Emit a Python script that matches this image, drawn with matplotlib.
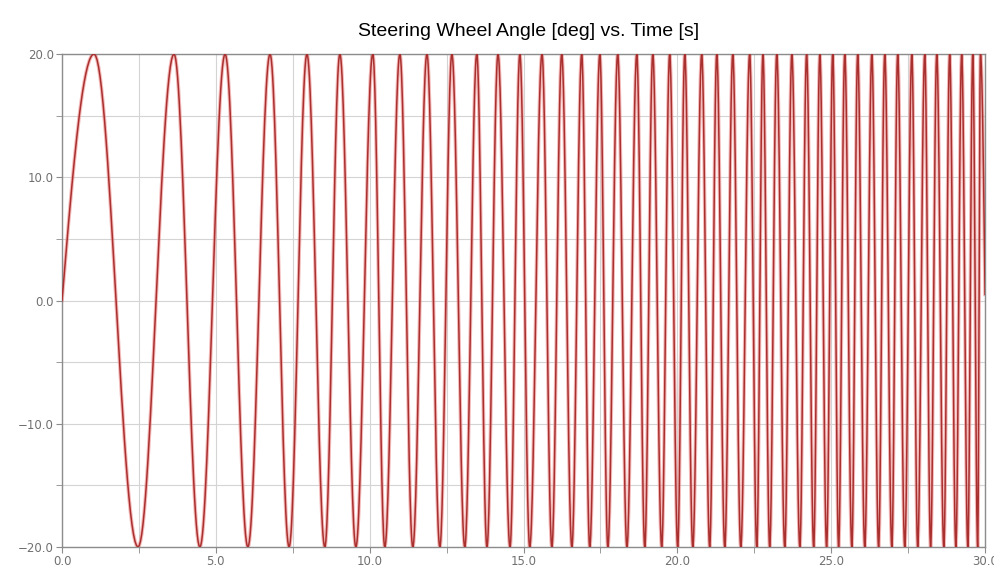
import numpy as np
import matplotlib
matplotlib.use("Agg")
import matplotlib.pyplot as plt
from matplotlib.ticker import MultipleLocator, FuncFormatter

# steering sweep: turning points of the trace (s), amplitude in deg
peak_times = [1.04, 3.64, 5.30, 6.76, 7.96, 9.03, 10.10, 10.98, 11.86, 12.67,
              13.48, 14.17, 14.88, 15.60, 16.24, 16.89, 17.48, 18.06, 18.68,
              19.20, 19.75, 20.24, 20.79, 21.28, 21.80, 22.35, 22.78, 23.23,
              23.72, 24.20, 24.63, 25.05, 25.44, 25.86, 26.32, 26.74, 27.16,
              27.62, 28.04, 28.43, 28.85, 29.24, 29.60, 29.85]
trough_times = [2.47, 4.48, 6.04, 7.38, 8.54, 9.55, 10.49, 11.40, 12.28, 13.09,
                13.81, 14.56, 15.20, 15.92, 16.57, 17.15, 17.74, 18.36, 18.94,
                19.49, 20.01, 20.50, 21.05, 21.54, 22.06, 22.58, 23.00, 23.49,
                23.98, 24.43, 24.85, 25.24, 25.67, 26.09, 26.54, 26.97, 27.39,
                27.81, 28.23, 28.66, 29.05, 29.44, 29.76]
amplitude = 20.0
t_start, angle_start = 0.0, 0.0
t_end, angle_end = 30.0, 0.5

x_ticks = [0.0, 5.0, 10.0, 15.0, 20.0, 25.0, 30.0]
y_ticks = [-20.0, -10.0, 0.0, 10.0, 20.0]


def build_trace():
    pts = sorted([(t, amplitude) for t in peak_times] +
                 [(t, -amplitude) for t in trough_times])
    ts, ys = [], []
    # rise from the start value up to the first turning point (quarter wave)
    t1, y1 = pts[0]
    s = np.linspace(0, 1, 40)
    ts.extend(t_start + (t1 - t_start) * s)
    ys.extend(angle_start + (y1 - angle_start) * np.sin(s * np.pi / 2))
    # half swings between consecutive turning points
    for (ta, ya), (tb, yb) in zip(pts[:-1], pts[1:]):
        s = np.linspace(0, 1, 30)[1:]
        ts.extend(ta + (tb - ta) * s)
        ys.extend(ya + (yb - ya) * (1 - np.cos(s * np.pi)) / 2)
    # fall from the last turning point to the end value
    ta, ya = pts[-1]
    s = np.linspace(0, 1, 20)[1:]
    ts.extend(ta + (t_end - ta) * s)
    ys.extend(angle_end + (ya - angle_end) * np.cos(s * np.pi / 2))
    return np.array(ts), np.array(ys)


t, angle = build_trace()

fig = plt.figure(figsize=(9.94, 5.76), dpi=100)
ax = fig.add_axes([0.0624, 0.0503, 0.9286, 0.8559])

ax.plot(t, angle, color="#ef8c8c", linewidth=2.6, alpha=0.6, zorder=2)
ax.plot(t, angle, color="#a8302f", linewidth=1.1, zorder=3)

ax.set_xlim(0, 30)
ax.set_ylim(-20, 20)
ax.set_xticks(x_ticks)
ax.set_yticks(y_ticks)
ax.xaxis.set_minor_locator(MultipleLocator(2.5))
ax.yaxis.set_minor_locator(MultipleLocator(5.0))
fmt = FuncFormatter(lambda v, pos: f"{v:.1f}".replace("-", "\u2212"))
ax.xaxis.set_major_formatter(fmt)
ax.yaxis.set_major_formatter(fmt)
ax.grid(which="both", color="#d4d4d4", linewidth=0.8, zorder=0)

for sp in ax.spines.values():
    sp.set_color("#8c8c8c")
    sp.set_linewidth(1.0)
ax.tick_params(which="both", direction="out", length=4, color="#8c8c8c",
               labelsize=8.5, labelcolor="#707070", pad=2)
for lab in ax.get_xticklabels() + ax.get_yticklabels():
    lab.set_family(["Liberation Sans Narrow", "DejaVu Sans"])

fig.text(0.532, 0.945, "Steering Wheel Angle [deg] vs. Time [s]",
         ha="center", va="center", fontsize=14,
         family=["Liberation Sans", "DejaVu Sans"])

fig.savefig("out.png", dpi=100, facecolor="white")
